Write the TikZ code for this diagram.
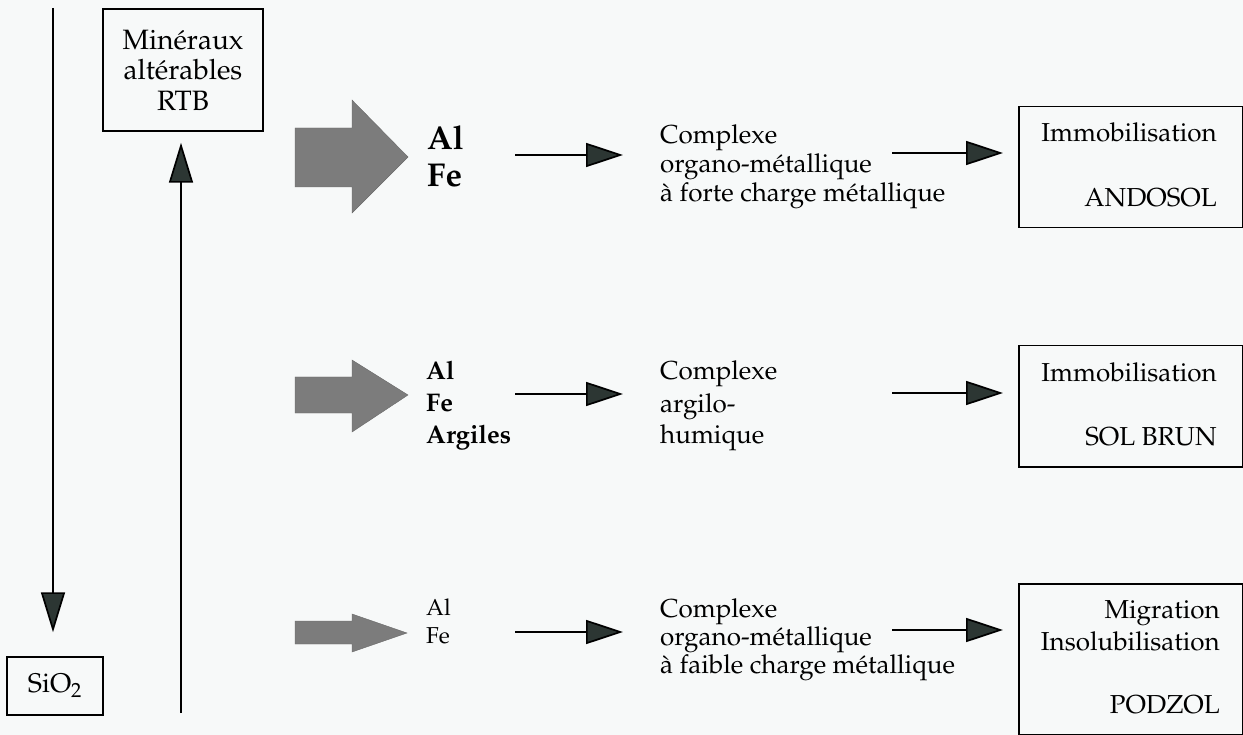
\documentclass[tikz,border=0pt]{standalone}
\usepackage[T1]{fontenc}
\usepackage{mathpazo}
\usetikzlibrary{arrows.meta}
\definecolor{bg}{HTML}{F7F9F9}
\definecolor{headc}{HTML}{2C3633}
\definecolor{bigc}{HTML}{7C7C7C}
\newcommand\fsz[2]{\fontsize{#1}{#2}\selectfont}
\begin{document}
\begin{tikzpicture}[x=1pt,y=-1pt,
  box/.style={draw=black, line width=1.5pt, inner sep=0pt},
  txt/.style={inner sep=0pt, anchor=base west, font=\fsz{26}{30}},
  txtr/.style={inner sep=0pt, anchor=base east, font=\fsz{26}{30}},
  conn/.style={line width=1.7pt, draw=black, -{Triangle[length=37pt,width=24pt,fill=headc]}},
  vconn/.style={line width=1.7pt, draw=black, -{Triangle[length=40pt,width=24pt,fill=headc]}},
  big/.style={fill=bigc, draw=bigc!85!black, line width=0.4pt},
  elA/.style={inner sep=0pt, anchor=base west, font=\fsz{33}{38}\bfseries},
  elB/.style={inner sep=0pt, anchor=base west, font=\fsz{25.5}{30}\bfseries},
  elC/.style={inner sep=0pt, anchor=base west, font=\fsz{23}{26}}]
\fill[bg] (0,0) rectangle (1243,735);
\useasboundingbox (0,0) rectangle (1243,735);

% left column
\node[box, minimum width=160pt, minimum height=122pt, align=center, font=\fsz{28}{30.5}] (min) at (183,70) {Minéraux\\altérables\\RTB};
\node[box, minimum width=96pt, minimum height=58pt, font=\fsz{27}{30}] (sio) at (55,686) {SiO$_2$};
\coordinate (ltop) at (53,8);
\coordinate (rbot) at (181,713);
\draw[vconn, shorten >=24pt] (ltop) -- (ltop |- sio.north);
\draw[vconn, shorten >=11pt] (rbot) -- (rbot |- min.south);

% big gray arrows
\fill[big] (295,128) -- (352,128) -- (352,100) -- (408,157) -- (352,213) -- (352,187) -- (295,187) -- cycle;
\fill[big] (295,377) -- (352,377) -- (352,360) -- (408,395) -- (352,432) -- (352,413) -- (295,413) -- cycle;
\fill[big] (295,621) -- (352,621) -- (352,614) -- (407,633) -- (352,652) -- (352,644) -- (295,644) -- cycle;

% elements
\node[elA] (a1) at (427,150) {Al};
\node[elA] (f1) at (427,187) {Fe};
\node[elB] (a2) at (426,380) {Al};
\node[elB] (f2) at (426,412) {Fe};
\node[elB] (g2) at (426,443) {Argiles};
\node[elC] (a3) at (426,615) {Al};
\node[elC] (f3) at (426,643) {Fe};

% complexes
\node[txt] (c1a) at (660,144) {Complexe};
\node[txt] (c1b) at (660,173) {organo-métallique};
\node[txt] (c1c) at (660,202) {à forte charge métallique};
\node[txt] (c2a) at (660,380) {Complexe};
\node[txt] (c2b) at (660,413) {argilo-};
\node[txt] (c2c) at (660,443) {humique};
\node[txt] (c3a) at (660,617) {Complexe};
\node[txt] (c3b) at (660,645) {organo-métallique};
\node[txt] (c3c) at (660,673) {à faible charge métallique};

% result boxes
\node[box, minimum width=224pt, minimum height=121pt, anchor=north west] (b1) at (1018,106) {};
\node[txtr] (b1a) at (1217,142) {Immobilisation};
\node[txtr] (b1b) at (1217,207) {ANDOSOL};
\node[box, minimum width=224pt, minimum height=121pt, anchor=north west] (b2) at (1018,345) {};
\node[txtr] (b2a) at (1217,382) {Immobilisation};
\node[txtr] (b2b) at (1217,445) {SOL BRUN};
\node[box, minimum width=224pt, minimum height=151pt, anchor=north west] (b3) at (1018,583) {};
\node[txtr] (b3a) at (1220,618) {Migration};
\node[txtr] (b3b) at (1220,650) {Insolubilisation};
\node[txtr] (b3c) at (1220,713) {PODZOL};

% thin arrows
\coordinate (p1s) at (515,155); \coordinate (p1e) at (623,155);
\coordinate (q1s) at (892,153); \coordinate (q1e) at (1003,153);
\coordinate (p2s) at (515,394); \coordinate (p2e) at (623,394);
\coordinate (q2s) at (892,393); \coordinate (q2e) at (1003,393);
\coordinate (p3s) at (515,632); \coordinate (p3e) at (623,632);
\coordinate (q3s) at (892,630); \coordinate (q3e) at (1003,630);
\draw[conn] (p1s) -- (p1e);
\draw[conn] (q1s) -- (q1e);
\draw[conn] (p2s) -- (p2e);
\draw[conn] (q2s) -- (q2e);
\draw[conn] (p3s) -- (p3e);
\draw[conn] (q3s) -- (q3e);
\end{tikzpicture}
\end{document}
